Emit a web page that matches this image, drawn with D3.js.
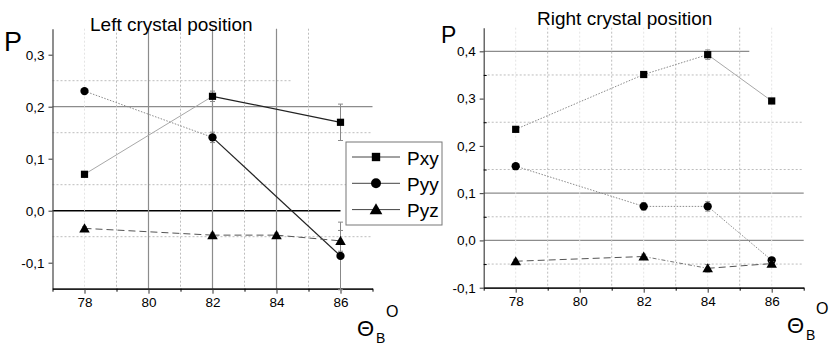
<!DOCTYPE html>
<html>
<head>
<meta charset="utf-8">
<script src="https://cdn.jsdelivr.net/npm/d3@7"></script>
<style>
	body { margin: 0; background: #fff; }
	text { font-family: "Liberation Sans", Arial, sans-serif; fill: #000; }
</style>
</head>
<body>
<div id="figure"></div>
<script>
//------------------------------------------------------------------------------
// Data
//------------------------------------------------------------------------------

var x_ticks = [78, 80, 82, 84, 86];
var x_minor = [77, 79, 81, 83, 85, 87];
var left_y_ticks = [-0.1, 0.0, 0.1, 0.2, 0.3];
var right_y_ticks = [-0.1, 0.0, 0.1, 0.2, 0.3, 0.4];
var right_y_minor = [-0.05, 0.05, 0.15, 0.25, 0.35];
var series_names = ["Pxy", "Pyy", "Pyz"];

// Left crystal position
var left_x = [78, 82, 86];
var left_pxy = [0.07, 0.22, 0.17];
var left_pxy_err = [0.005, 0.01, 0.035];
var left_pyy = [0.23, 0.141, -0.087];
var left_pyy_err = [0.004, 0.01, 0.065];
var left_pyz_x = [78, 82, 84, 86];
var left_pyz = [-0.034, -0.047, -0.047, -0.058];
var left_pyz_err = [0.003, 0.004, 0.004, 0.02];

// Right crystal position
var right_x = [78, 82, 84, 86];
var right_pxy = [0.235, 0.351, 0.393, 0.295];
var right_pxy_err = [0.003, 0.006, 0.01, 0.004];
var right_pyy = [0.157, 0.072, 0.072, -0.042];
var right_pyy_err = [0.004, 0.008, 0.01, 0.006];
var right_pyz = [-0.044, -0.034, -0.059, -0.049];
var right_pyz_err = [0.004, 0.005, 0.008, 0.004];


//------------------------------------------------------------------------------
// Helpers
//------------------------------------------------------------------------------

var line_styles = {
	light:   {stroke: "#a8a8a8", width: 1,   dash: null},
	dark:    {stroke: "#222",    width: 1.2, dash: null},
	dot:     {stroke: "#8a8a8a", width: 1,   dash: "1.5,1.5"},
	dash:    {stroke: "#555",    width: 1,   dash: "7,4"},
	dashdot: {stroke: "#777",    width: 1,   dash: "4,2,1,2"}
};

var grid_styles = {
	solid: {stroke: "#8c8c8c", width: 1.2, dash: null},
	black: {stroke: "#000",    width: 1.5, dash: null},
	dot:   {stroke: "#bdbdbd", width: 1,   dash: "2,2"},
	faint: {stroke: "#e4e4e4", width: 1,   dash: "2,2"}
};

var symbols = [d3.symbolSquare, d3.symbolCircle, d3.symbolTriangle];
var symbol_sizes = [52, 54, 48];

function fmt(d) {
	return d.toFixed(1).replace(".", ",");
}

function style_line(sel, st) {
	sel.attr("stroke", st.stroke)
	   .attr("stroke-width", st.width)
	   .attr("fill", "none");
	if (st.dash) sel.attr("stroke-dasharray", st.dash);
	return sel;
}


//------------------------------------------------------------------------------
// One panel
//------------------------------------------------------------------------------

function draw_panel(svg, p) {
	var x = d3.scaleLinear().domain([77, 87]).range(p.x_range);
	var y = d3.scaleLinear().domain(p.y_domain).range(p.y_range);
	var g = svg.append("g");

	// grid
	p.hgrid.forEach(function(h) {
		style_line(g.append("line"), grid_styles[h.kind])
			.attr("x1", x(77)).attr("x2", x(h.to))
			.attr("y1", y(h.at)).attr("y2", y(h.at));
	});
	p.vgrid.forEach(function(v) {
		style_line(g.append("line"), grid_styles[v.kind])
			.attr("x1", x(v.at)).attr("x2", x(v.at))
			.attr("y1", y(p.y_domain[1])).attr("y2", y(p.y_domain[0]));
	});

	// axes
	var ya = g.append("g")
		.attr("transform", "translate(" + x(77) + ",0)")
		.call(d3.axisLeft(y).tickValues(p.y_ticks).tickFormat(fmt)
			.tickSize(4).tickPadding(4).tickSizeOuter(0));
	if (p.y_minor) {
		g.append("g")
			.attr("transform", "translate(" + x(77) + ",0)")
			.call(d3.axisRight(y).tickValues(p.y_minor).tickFormat("")
				.tickSize(3).tickSizeOuter(0))
			.select(".domain").remove();
	}
	var xa = g.append("g")
		.attr("transform", "translate(0," + y(p.y_domain[0]) + ")")
		.call(d3.axisBottom(x).tickValues(x_ticks).tickFormat(d3.format("d"))
			.tickSize(5).tickPadding(4).tickSizeOuter(0));
	g.append("g")
		.attr("transform", "translate(0," + y(p.y_domain[0]) + ")")
		.call(d3.axisBottom(x).tickValues(x_minor).tickFormat("")
			.tickSize(3).tickSizeOuter(0))
		.select(".domain").remove();

	[ya, xa].forEach(function(a) {
		a.selectAll("text").attr("font-size", 13.5)
			.attr("font-family", "Liberation Sans, Arial, sans-serif");
		a.selectAll("line").attr("stroke", "#333");
	});
	ya.select(".domain").attr("stroke", "#444").attr("stroke-width", 1.2);
	xa.select(".domain").attr("stroke", "#222").attr("stroke-width", 1.8);

	// series
	p.series.forEach(function(s, i) {
		var pts = s.xs.map(function(d, k) { return [d, s.ys[k], s.err[k]]; });

		// segments
		for (var k = 0; k < pts.length - 1; k++) {
			style_line(g.append("line"), line_styles[s.segs[k]])
				.attr("x1", x(pts[k][0])).attr("y1", y(pts[k][1]))
				.attr("x2", x(pts[k + 1][0])).attr("y2", y(pts[k + 1][1]));
		}

		// error bars
		g.append("g").selectAll("path").data(pts).join("path")
			.attr("d", function(d) {
				var cx = x(d[0]), y0 = y(d[1] - d[2]), y1 = y(d[1] + d[2]);
				return "M" + cx + "," + y0 + "V" + y1 +
					"M" + (cx - 2.5) + "," + y0 + "H" + (cx + 2.5) +
					"M" + (cx - 2.5) + "," + y1 + "H" + (cx + 2.5);
			})
			.attr("stroke", "#888").attr("stroke-width", 1).attr("fill", "none");

		// markers
		g.append("g").selectAll("path.m").data(pts).join("path")
			.attr("class", "m")
			.attr("transform", function(d) {
				return "translate(" + x(d[0]) + "," + (y(d[1]) + (i == 2 ? 1 : 0)) + ")";
			})
			.attr("d", d3.symbol().type(symbols[i]).size(symbol_sizes[i]))
			.attr("fill", "#000");
	});

	// texts
	g.append("text").attr("x", p.title_x).attr("y", p.title_y)
		.attr("font-size", 19).text(p.title);
	g.append("text").attr("x", p.p_x).attr("y", p.p_y)
		.attr("font-size", p.p_size).text("P");
	g.append("text").attr("x", p.theta_x).attr("y", p.theta_y)
		.attr("font-size", 22).text("\u0398");
	g.append("text").attr("x", p.theta_x + 19).attr("y", p.theta_y + 7)
		.attr("font-size", 14).text("B");
	g.append("text").attr("x", p.theta_x + 29).attr("y", p.theta_y - 19)
		.attr("font-size", 16).text("O");
}


//------------------------------------------------------------------------------
// Legend
//------------------------------------------------------------------------------

function draw_legend(svg) {
	var g = svg.append("g").attr("transform", "translate(346,142)");
	g.append("rect").attr("width", 96).attr("height", 83)
		.attr("fill", "#fff").attr("stroke", "#777").attr("stroke-width", 1);
	var sizes = [70, 78, 70];
	series_names.forEach(function(name, i) {
		var cy = 15 + i * 26.3;
		g.append("line").attr("x1", 6).attr("x2", 54).attr("y1", cy).attr("y2", cy)
			.attr("stroke", "#444").attr("stroke-width", 1);
		g.append("path").attr("transform", "translate(30," + (cy + (i == 2 ? 1 : 0)) + ")")
			.attr("d", d3.symbol().type(symbols[i]).size(sizes[i]))
			.attr("fill", "#000");
		g.append("text").attr("x", 61).attr("y", cy + 7.5)
			.attr("font-size", 19).text(name);
	});
}


//------------------------------------------------------------------------------
// Main
//------------------------------------------------------------------------------

function main() {
	var svg = d3.select("#figure").append("svg")
		.attr("width", 831).attr("height", 347);

	draw_panel(svg, {
		x_range: [52.5, 372.5],
		y_domain: [-0.15, 0.35],
		y_range: [288.7, 28.7],
		y_ticks: left_y_ticks,
		hgrid: [
			{at: 0.25, to: 84.5, kind: "dot"},
			{at: 0.15, to: 87, kind: "dot"},
			{at: 0.05, to: 87, kind: "dot"},
			{at: -0.05, to: 87, kind: "dot"},
			{at: 0.2, to: 87, kind: "solid"},
			{at: 0.0, to: 86, kind: "black"}
		],
		vgrid: [
			{at: 78, kind: "faint"}, {at: 79, kind: "dot"}, {at: 81, kind: "dot"},
			{at: 83, kind: "dot"}, {at: 85, kind: "dot"},
			{at: 80, kind: "solid"}, {at: 82, kind: "solid"}, {at: 84, kind: "solid"}
		],
		series: [
			{xs: left_x, ys: left_pxy, err: left_pxy_err, segs: ["light", "dark"]},
			{xs: left_x, ys: left_pyy, err: left_pyy_err, segs: ["dot", "dark"]},
			{xs: left_pyz_x, ys: left_pyz, err: left_pyz_err, segs: ["dash", "dash", "dash"]}
		],
		title: "Left crystal position", title_x: 90, title_y: 31,
		p_x: 4, p_y: 51, p_size: 27,
		theta_x: 357, theta_y: 336
	});

	draw_panel(svg, {
		x_range: [483.7, 803.7],
		y_domain: [-0.1, 0.45],
		y_range: [287.7, 27.7],
		y_ticks: right_y_ticks,
		y_minor: right_y_minor,
		hgrid: [
			{at: 0.35, to: 85.3, kind: "dot"},
			{at: 0.25, to: 87, kind: "dot"},
			{at: 0.15, to: 87, kind: "dot"},
			{at: 0.05, to: 87, kind: "dot"},
			{at: -0.05, to: 87, kind: "dot"},
			{at: 0.4, to: 85.3, kind: "solid"},
			{at: 0.1, to: 87, kind: "solid"},
			{at: 0.0, to: 87, kind: "solid"}
		],
		vgrid: [
			{at: 78, kind: "faint"}, {at: 80, kind: "faint"}, {at: 82, kind: "faint"},
			{at: 84, kind: "faint"}, {at: 86, kind: "faint"},
			{at: 79, kind: "dot"}, {at: 81, kind: "dot"}, {at: 83, kind: "dot"}, {at: 85, kind: "dot"}
		],
		series: [
			{xs: right_x, ys: right_pxy, err: right_pxy_err, segs: ["dot", "dot", "light"]},
			{xs: right_x, ys: right_pyy, err: right_pyy_err, segs: ["dot", "dot", "dot"]},
			{xs: right_x, ys: right_pyz, err: right_pyz_err, segs: ["dash", "dashdot", "dash"]}
		],
		title: "Right crystal position", title_x: 537, title_y: 25,
		p_x: 441, p_y: 43, p_size: 23,
		theta_x: 787, theta_y: 333
	});

	draw_legend(svg);
}

if (window.addEventListener) {
	window.addEventListener("load", main, false);
} else {
	window.attachEvent("onload", main);
}
</script>
</body>
</html>
